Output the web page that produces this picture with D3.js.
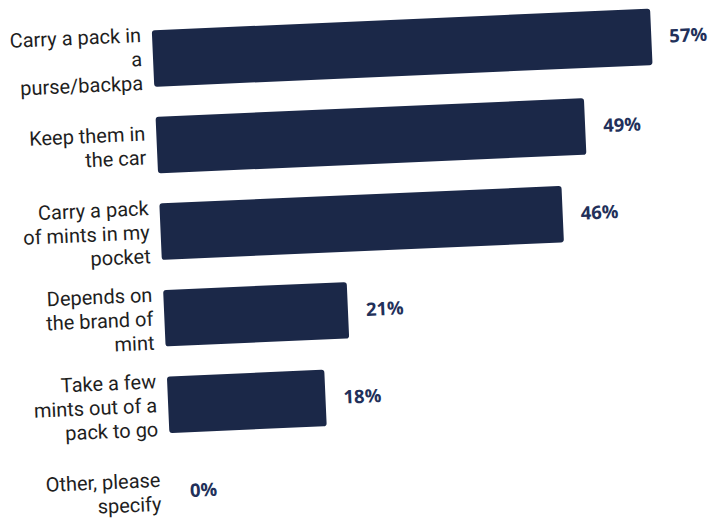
<!DOCTYPE html>
<html>
<head>
<meta charset="utf-8">
<script src="https://cdn.jsdelivr.net/npm/d3@7"></script>
<style>
  html, body { margin: 0; padding: 0; background: #fff; }
</style>
</head>
<body>
<div id="chart"></div>
<script>
// categories (line breaks as shown in the picture)
const categories = [
  "Carry a pack in\na\npurse/backpa",
  "Keep them in\nthe car",
  "Carry a pack\nof mints in my\npocket",
  "Depends on\nthe brand of\nmint",
  "Take a few\nmints out of a\npack to go",
  "Other, please\nspecify"
];
const values = [57, 49, 46, 21, 18, 0];

const W = 712, H = 520;

const svg = d3.select("#chart")
  .append("svg")
  .attr("width", W)
  .attr("height", H);

// the photo is slightly tilted
const g = svg.append("g")
  .attr("transform", "rotate(-2.5, 356, 260)");

const x = d3.scaleLinear()
  .domain([0, 57])
  .range([162, 660.75]);

const y = d3.scaleBand()
  .domain(categories)
  .range([0, 533])
  .paddingInner(0.348)
  .paddingOuter(0.25);

// bars
g.selectAll("rect.bar")
  .data(values)
  .enter()
  .append("rect")
  .attr("class", "bar")
  .attr("x", x(0))
  .attr("y", (d, i) => y(categories[i]))
  .attr("width", d => x(d) - x(0))
  .attr("height", y.bandwidth())
  .attr("rx", 3)
  .attr("fill", "#1b2848");

// value labels
g.selectAll("text.val")
  .data(values)
  .enter()
  .append("text")
  .attr("class", "val")
  .attr("x", d => x(d) + 18)
  .attr("y", (d, i) => y(categories[i]) + y.bandwidth() / 2)
  .attr("dy", "0.35em")
  .attr("font-family", "'Open Sans', sans-serif")
  .attr("font-weight", 700)
  .attr("font-size", 18.5)
  .attr("fill", "#22305a")
  .text(d => d + "%");

// category labels
const lineH = 24;
const labels = g.selectAll("text.cat")
  .data(categories)
  .enter()
  .append("text")
  .attr("class", "cat")
  .attr("text-anchor", "end")
  .attr("font-family", "Roboto, sans-serif")
  .attr("font-size", 20)
  .attr("fill", "#1e1e1e");

labels.each(function(c) {
  const lines = c.split("\n");
  const cy = y(c) + y.bandwidth() / 2;
  const top = cy - (lines.length - 1) * lineH / 2;
  d3.select(this).selectAll("tspan")
    .data(lines)
    .enter()
    .append("tspan")
    .attr("x", 151)
    .attr("y", (l, j) => top + j * lineH)
    .attr("dy", "0.35em")
    .text(l => l);
});
</script>
</body>
</html>
